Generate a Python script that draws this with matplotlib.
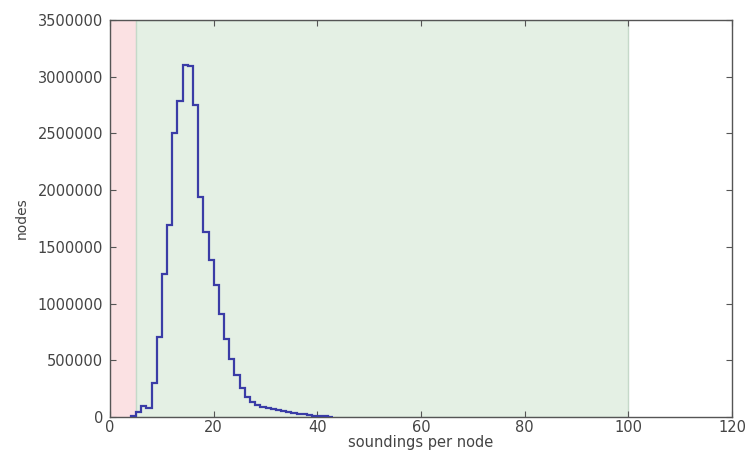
import numpy as np
import matplotlib
matplotlib.use("Agg")
import matplotlib.pyplot as plt
from matplotlib.ticker import FormatStrFormatter

# soundings per node histogram, integer bins starting at 4
bin_start = 4
counts = [12000, 45000, 95000, 75000, 300000, 705000, 1260000, 1690000,
          2500000, 2790000, 3100000, 3090000, 2750000, 1940000, 1630000,
          1380000, 1160000, 910000, 690000, 515000, 370000, 255000, 180000,
          135000, 105000, 92000, 82000, 72000, 62000, 53000, 45000, 37000,
          30000, 24000, 18000, 13000, 9000, 6000, 3000]
edges = np.arange(bin_start, bin_start + len(counts) + 1)

bad_range = (0, 5)
good_range = (5, 100)
x_ticks = [0, 20, 40, 60, 80, 100, 120]
y_ticks = [0, 500000, 1000000, 1500000, 2000000, 2500000, 3000000, 3500000]

fig = plt.figure(figsize=(7.45, 4.54), dpi=100)
ax = fig.add_axes([0.1477, 0.0815, 0.835, 0.8745])

ax.axvspan(*bad_range, facecolor="#fbe1e3", edgecolor="#e8c4c6", lw=0.8, zorder=0)
ax.axvspan(*good_range, facecolor="#e4f0e4", edgecolor="#c5d9c9", lw=1.0, zorder=0)

ax.hist(edges[:-1], bins=edges, weights=counts, histtype="step",
        color="#3a3ca6", lw=1.6, zorder=3)

ax.set_xlim(0, 120)
ax.set_ylim(0, 3500000)
ax.set_xticks(x_ticks)
ax.set_yticks(y_ticks)
ax.yaxis.set_major_formatter(FormatStrFormatter("%d"))
ax.tick_params(direction="in", top=True, right=True, length=4, width=0.8,
               labelsize=10.5, colors="#555555", labelcolor="#444444", pad=5)
ax.tick_params(axis="x", pad=2)
for sp in ax.spines.values():
    sp.set_color("#555555")
    sp.set_linewidth(1.0)

ax.set_xlabel("soundings per node", fontsize=10.5, color="#444444", labelpad=0)
ax.set_ylabel("nodes", fontsize=10, color="#444444", labelpad=6)

fig.savefig("out.png", dpi=100)
